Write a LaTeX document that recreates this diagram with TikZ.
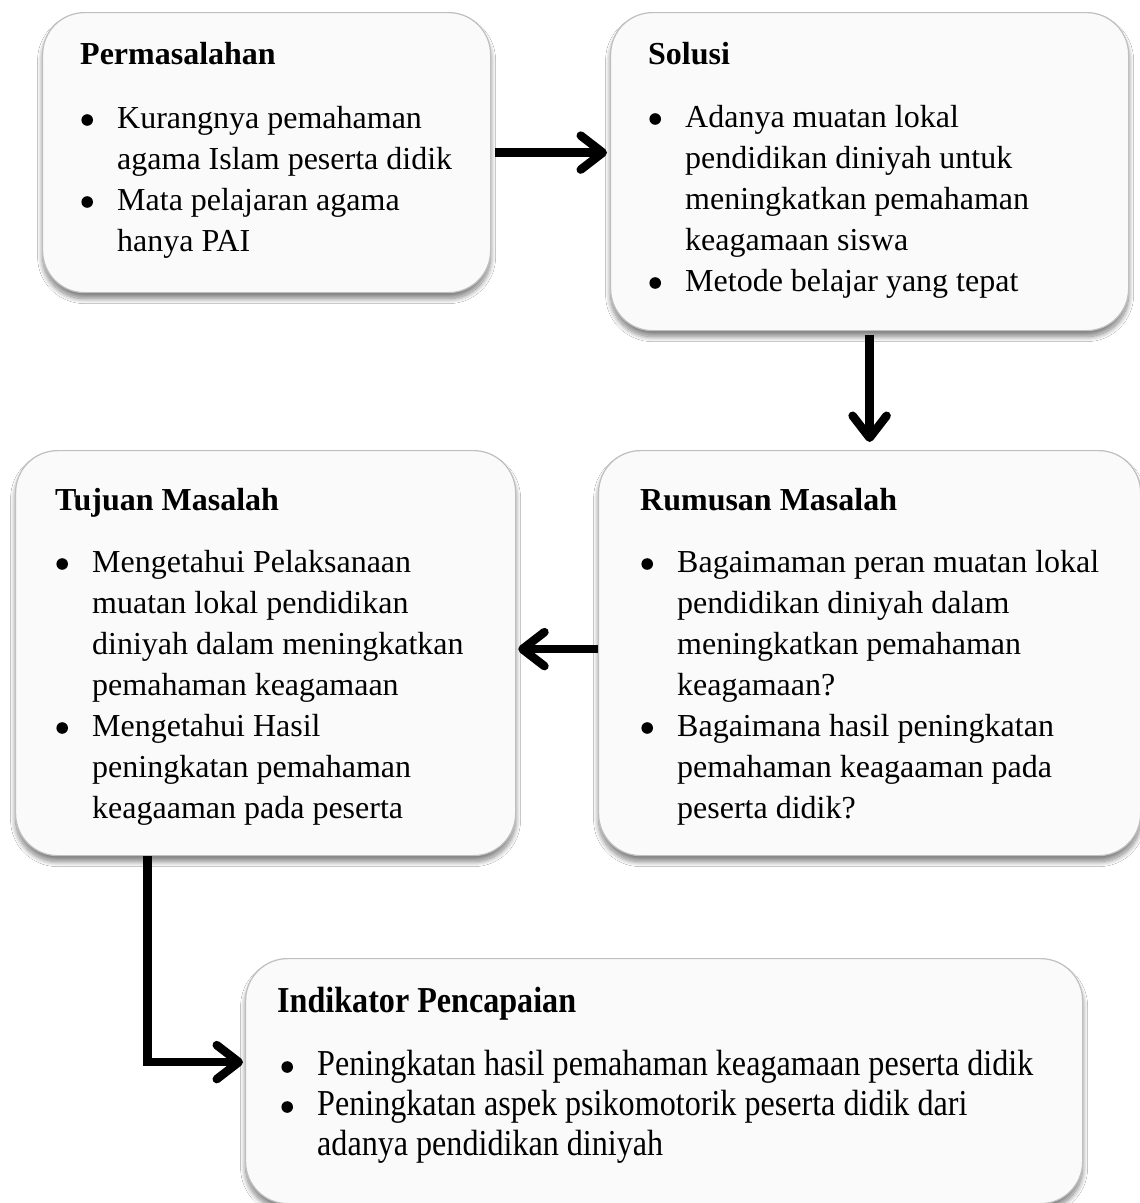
\documentclass[tikz,border=0pt]{standalone}
\usepackage{fontspec}
\setmainfont{Liberation Serif}
\newfontfamily\tallfont[FakeStretch=0.88]{Liberation Serif}
\usetikzlibrary{arrows.meta,shadows.blur,calc}
\newcommand\bitem{\makebox[37pt][l]{\tikz[x=1pt,y=1pt,baseline=0pt]\fill[black] (0,0) (7,8) circle (5.8);}}
\newcommand\bcont{\hspace*{37pt}}
\begin{document}
\begin{tikzpicture}[x=1pt,y=-1pt,
  panel/.style={rounded corners=42pt, fill=black!2, draw=black!25, line width=1.2pt, anchor=north west, inner sep=0pt,
    blur shadow={shadow xshift=0pt, shadow yshift=-6pt, shadow blur radius=5pt, shadow blur steps=12, shadow opacity=50}},
  ttl/.style={anchor=base west, inner sep=0pt, font=\fontsize{32}{41}\selectfont\bfseries},
  lst/.style={anchor=base west, inner sep=0pt, font=\fontsize{32}{41}\selectfont},
  ttltall/.style={anchor=base west, inner sep=0pt, font=\tallfont\fontsize{36.5}{40}\selectfont\bfseries},
  lsttall/.style={anchor=base west, inner sep=0pt, font=\tallfont\fontsize{36.5}{40}\selectfont},
  conn/.style={line width=8.5pt, draw=black, -{Straight Barb[length=22pt,width=34pt,round]}}
]
\fill[white] (0,0) rectangle (1140,1203);
\useasboundingbox (0,0) rectangle (1140,1203);

% boxes
\node[panel, minimum width=448pt, minimum height=280pt] (p1) at (42,12) {};
\node[panel, minimum width=518pt, minimum height=318pt] (p2) at (610,12) {};
\node[panel, minimum width=542pt, minimum height=405pt] (p3) at (598,450) {};
\node[panel, minimum width=500pt, minimum height=405pt] (p4) at (15,450) {};
\node[panel, minimum width=837pt, minimum height=245pt] (p5) at (245,958) {};

% texts
\node[ttl] (t1) at (80,64) {Permasalahan};
\node[lst] (l1) at (80,128) {\parbox[t]{420pt}{%
\bitem Kurangnya pemahaman\\
\bcont agama Islam peserta didik\\
\bitem Mata pelajaran agama\\
\bcont hanya PAI}};

\node[ttl] (t2) at (648,64) {Solusi};
\node[lst] (l2) at (648,127) {\parbox[t]{470pt}{%
\bitem Adanya muatan lokal\\
\bcont pendidikan diniyah untuk\\
\bcont meningkatkan pemahaman\\
\bcont keagamaan siswa\\
\bitem Metode belajar yang tepat}};

\node[ttl] (t3) at (640,510) {Rumusan Masalah};
\node[lst] (l3) at (640,572) {\parbox[t]{500pt}{%
\bitem Bagaimaman peran muatan lokal\\
\bcont pendidikan diniyah dalam\\
\bcont meningkatkan pemahaman\\
\bcont keagamaan?\\
\bitem Bagaimana hasil peningkatan\\
\bcont pemahaman keagaaman pada\\
\bcont peserta didik?}};

\node[ttl] (t4) at (55,510) {Tujuan Masalah};
\node[lst] (l4) at (55,572) {\parbox[t]{460pt}{%
\bitem Mengetahui Pelaksanaan\\
\bcont muatan lokal pendidikan\\
\bcont diniyah dalam meningkatkan\\
\bcont pemahaman keagamaan\\
\bitem Mengetahui Hasil\\
\bcont peningkatan pemahaman\\
\bcont keagaaman pada peserta}};

\node[ttltall] (t5) at (277,1012) {Indikator Pencapaian};
\node[lsttall] (l5) at (280,1075) {\parbox[t]{800pt}{%
\bitem Peningkatan hasil pemahaman keagamaan peserta didik\\
\bitem Peningkatan aspek psikomotorik peserta didik dari\\
\bcont adanya pendidikan diniyah}};

% connectors
\draw[conn] ([xshift=4pt]p1.east) -- ([xshift=-3pt]p1.east -| p2.west);
\draw[conn] ([yshift=-4pt]p2.south) -- ([yshift=8pt]p3.north);
\draw[conn] ([yshift=4pt]p3.west) -- ([yshift=4pt,xshift=2pt]p4.east);
\draw[conn] ([xshift=-118pt]p4.south) |- ([xshift=-2pt,yshift=19pt]p5.west);
\end{tikzpicture}
\end{document}
